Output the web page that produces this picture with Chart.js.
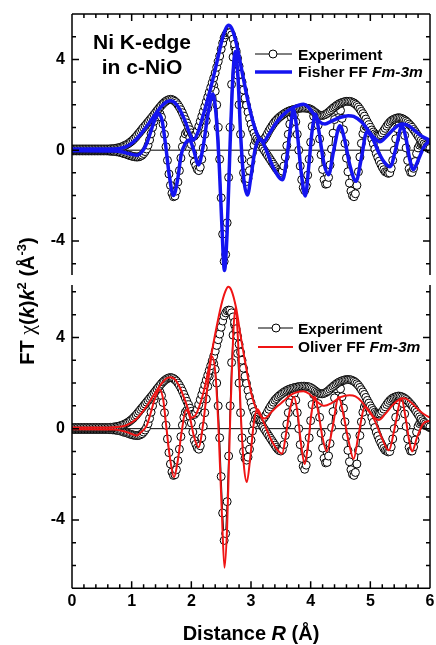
<!DOCTYPE html>
<html lang="en">
<head>
<meta charset="UTF-8">
<title>Ni K-edge FT in c-NiO</title>
<script src="https://cdn.jsdelivr.net/npm/chart.js"></script>
<style>
  html, body { margin: 0; padding: 0; background: #fff; }
  #wrap { position: relative; width: 436px; height: 645px; overflow: hidden; }
  canvas { position: absolute; left: 0; }
  #topChart { top: 0; }
  #botChart { top: 280px; }
  svg { position: absolute; left: 0; top: 0; pointer-events: none; }
  svg text { font-family: "Liberation Sans", Arial, sans-serif; font-weight: bold; fill: #000; }
</style>
</head>
<body>
<div id="wrap">
  <canvas id="topChart" width="436" height="280"></canvas>
  <canvas id="botChart" width="436" height="365"></canvas>
  <svg width="436" height="645" viewBox="0 0 436 645">
    <text x="142" y="49" font-size="21" text-anchor="middle">Ni K-edge</text>
    <text x="142" y="74" font-size="21" text-anchor="middle">in c-NiO</text>

    <line x1="255" y1="54" x2="292" y2="54" stroke="#000" stroke-width="1"/>
    <circle cx="273" cy="54" r="4" fill="#fff" stroke="#000" stroke-width="1"/>
    <text x="298" y="60" font-size="15.5">Experiment</text>
    <line x1="255" y1="72" x2="292" y2="72" stroke="#1414f0" stroke-width="3.5"/>
    <text x="298" y="77" font-size="15.5">Fisher FF <tspan font-style="italic">Fm-3m</tspan></text>

    <line x1="258" y1="328" x2="293" y2="328" stroke="#000" stroke-width="1"/>
    <circle cx="276" cy="328" r="4" fill="#fff" stroke="#000" stroke-width="1"/>
    <text x="298" y="334" font-size="15.5">Experiment</text>
    <line x1="258" y1="347" x2="293" y2="347" stroke="#f01414" stroke-width="2"/>
    <text x="298" y="352" font-size="15.5">Oliver FF <tspan font-style="italic">Fm-3m</tspan></text>

    <text x="251" y="640" font-size="20" text-anchor="middle">Distance <tspan font-style="italic">R</tspan> (Å)</text>
    <text transform="translate(34,301) rotate(-90)" font-size="20" text-anchor="middle">FT <tspan font-family="Liberation Serif" font-weight="normal" font-size="22">χ</tspan>(<tspan font-style="italic">k</tspan>)<tspan font-style="italic">k</tspan><tspan font-size="13" dy="-8">2</tspan><tspan dy="8"> (Å</tspan><tspan font-size="13" dy="-8">-3</tspan><tspan dy="8">)</tspan></text>
  </svg>
</div>
<script>
// experiment, sampled every 0.025 A from R = 0 to 6
const R_STEP = 0.025;

const expMag = [
  0.05, 0.05, 0.05, 0.05, 0.05, 0.05, 0.05, 0.05, 0.05, 0.05,
  0.05, 0.05, 0.05, 0.05, 0.05, 0.05, 0.05, 0.05, 0.05, 0.05,
  0.05, 0.05, 0.05, 0.05, 0.05, 0.05, 0.06, 0.06, 0.07, 0.08,
  0.09, 0.10, 0.12, 0.14, 0.16, 0.19, 0.22, 0.26, 0.30, 0.35,
  0.40, 0.46, 0.53, 0.60, 0.68, 0.76, 0.84, 0.92, 1.00, 1.08,
  1.16, 1.24, 1.32, 1.40, 1.48, 1.57, 1.65, 1.74, 1.82, 1.90,
  1.98, 2.05, 2.11, 2.16, 2.20, 2.23, 2.24, 2.23, 2.20, 2.15,
  2.09, 2.00, 1.90, 1.78, 1.65, 1.50, 1.35, 1.20, 1.05, 0.90,
  0.76, 0.64, 0.62, 0.70, 0.85, 1.05, 1.27, 1.49, 1.70, 1.92,
  2.13, 2.34, 2.55, 2.76, 2.97, 3.18, 3.40, 3.65, 3.90, 4.15,
  4.45, 4.72, 4.95, 5.08, 5.17, 5.20, 5.18, 5.08, 4.90, 4.67,
  4.38, 4.05, 3.70, 3.35, 3.00, 2.65, 2.30, 1.98, 1.68, 1.40,
  1.15, 0.93, 0.75, 0.60, 0.50, 0.43, 0.39, 0.38, 0.42, 0.50,
  0.60, 0.72, 0.85, 0.96, 1.06, 1.16, 1.25, 1.32, 1.39, 1.45,
  1.50, 1.55, 1.60, 1.64, 1.68, 1.71, 1.74, 1.76, 1.78, 1.80,
  1.81, 1.83, 1.84, 1.85, 1.86, 1.86, 1.86, 1.85, 1.84, 1.83,
  1.80, 1.76, 1.71, 1.66, 1.61, 1.57, 1.54, 1.53, 1.53, 1.55,
  1.58, 1.62, 1.67, 1.73, 1.79, 1.85, 1.90, 1.95, 2.00, 2.04,
  2.07, 2.10, 2.12, 2.14, 2.15, 2.15, 2.15, 2.14, 2.11, 2.08,
  2.03, 1.97, 1.90, 1.81, 1.71, 1.61, 1.50, 1.37, 1.24, 1.12,
  1.00, 0.89, 0.80, 0.72, 0.67, 0.64, 0.64, 0.68, 0.76, 0.86,
  0.96, 1.06, 1.15, 1.23, 1.29, 1.34, 1.37, 1.40, 1.42, 1.43,
  1.42, 1.40, 1.37, 1.33, 1.28, 1.22, 1.15, 1.08, 1.00, 0.91,
  0.82, 0.72, 0.62, 0.52, 0.43, 0.35, 0.28, 0.22, 0.17, 0.12,
  0.08
];

const expIm = [
  -0.03, -0.03, -0.03, -0.03, -0.03, -0.03, -0.03, -0.03, -0.03, -0.03,
  -0.03, -0.03, -0.03, -0.03, -0.03, -0.03, -0.03, -0.03, -0.03, -0.03,
  -0.03, -0.03, -0.03, -0.03, -0.03, -0.04, -0.04, -0.05, -0.05, -0.06,
  -0.07, -0.08, -0.09, -0.11, -0.13, -0.15, -0.17, -0.19, -0.22, -0.24,
  -0.26, -0.28, -0.29, -0.30, -0.30, -0.29, -0.26, -0.22, -0.15, -0.06,
  0.05, 0.22, 0.45, 0.72, 1.00, 1.27, 1.45, 1.57, 1.62, 1.60,
  1.45, 1.15, 0.70, 0.15, -0.45, -1.05, -1.55, -1.90, -2.05, -2.02,
  -1.80, -1.40, -0.90, -0.35, 0.15, 0.50, 0.72, 0.80, 0.75, 0.55,
  0.25, -0.15, -0.52, -0.68, -0.84, -0.90, -0.75, -0.40, 0.10, 0.70,
  1.30, 1.85, 2.30, 2.62, 2.80, 2.85, 2.60, 2.00, 1.00, -0.40,
  -2.10, -3.70, -4.90, -4.60, -3.20, -1.20, 1.00, 2.90, 4.10, 4.55,
  4.30, 3.30, 2.00, 0.70, -0.40, -1.00, -1.30, -1.38, -1.25, -0.90,
  -0.50, -0.10, 0.22, 0.42, 0.47, 0.42, 0.32, 0.20, 0.08, -0.02,
  -0.12, -0.22, -0.32, -0.42, -0.52, -0.62, -0.72, -0.82, -0.90, -0.96,
  -0.98, -0.92, -0.70, -0.30, 0.20, 0.70, 1.15, 1.45, 1.60, 1.55,
  1.25, 0.70, 0.00, -0.70, -1.30, -1.65, -1.78, -1.60, -1.10, -0.40,
  0.35, 1.05, 1.50, 1.65, 1.50, 1.10, 0.50, -0.20, -0.85, -1.30,
  -1.50, -1.48, -1.20, -0.65, 0.05, 0.75, 1.35, 1.75, 1.95, 1.90,
  1.75, 1.40, 0.90, 0.30, -0.35, -0.95, -1.45, -1.80, -2.00, -2.05,
  -1.92, -1.55, -0.95, -0.30, 0.30, 0.72, 0.95, 1.05, 1.02, 0.90,
  0.72, 0.50, 0.28, 0.05, -0.15, -0.32, -0.48, -0.62, -0.75, -0.86,
  -0.95, -0.98, -1.02, -1.00, -0.80, -0.45, 0.00, 0.50, 0.95, 1.25,
  1.38, 1.35, 1.10, 0.65, 0.10, -0.45, -0.82, -0.98, -0.98, -0.80,
  -0.50, -0.15, 0.10, 0.22, 0.27, 0.26, 0.22, 0.17, 0.12, 0.08,
  0.04
];

// fits: [R, value] at the turning points and crossings
const fisherMag = [
  [0, 0.05], [0.6, 0.05], [0.8, 0.08], [0.9, 0.15], [1.0, 0.3], [1.1, 0.55], [1.2, 0.87],
  [1.3, 1.22], [1.4, 1.6], [1.5, 1.93], [1.58, 2.12], [1.65, 2.18], [1.72, 2.1], [1.8, 1.82],
  [1.9, 1.25], [1.97, 0.75], [2.03, 0.44], [2.1, 0.72], [2.2, 1.55], [2.3, 2.5], [2.4, 3.55],
  [2.5, 4.7], [2.56, 5.25], [2.62, 5.5], [2.68, 5.35], [2.75, 4.75], [2.85, 3.45], [2.95, 2.15],
  [3.05, 1.1], [3.13, 0.55], [3.21, 0.37], [3.3, 0.7], [3.4, 1.12], [3.5, 1.45], [3.6, 1.7],
  [3.7, 1.87], [3.8, 1.98], [3.88, 2.02], [3.96, 1.9], [4.06, 1.55], [4.15, 1.25], [4.24, 1.15],
  [4.35, 1.28], [4.5, 1.45], [4.63, 1.52], [4.72, 1.49], [4.85, 1.25], [4.95, 0.92], [5.05, 0.58],
  [5.16, 0.37], [5.27, 0.6], [5.4, 0.95], [5.53, 1.15], [5.62, 1.1], [5.72, 0.92], [5.82, 0.7],
  [5.92, 0.53], [6.0, 0.44]
];

const fisherIm = [
  [0, -0.03], [0.7, -0.04], [0.85, -0.08], [0.95, -0.15], [1.09, -0.22], [1.18, -0.05],
  [1.26, 0.35], [1.33, 0.9], [1.39, 1.35], [1.45, 1.6], [1.51, 1.3], [1.57, 0.2], [1.63, -1.1],
  [1.70, -2.0], [1.77, -1.3], [1.83, -0.2], [1.9, 0.3], [1.97, 0.45], [2.04, 0.0], [2.12, -0.65],
  [2.2, 0.2], [2.28, 1.6], [2.36, 2.48], [2.42, 1.4], [2.47, -0.8], [2.51, -3.2], [2.555, -5.3],
  [2.6, -3.6], [2.65, 0.3], [2.7, 3.4], [2.735, 4.35], [2.78, 3.3], [2.83, 0.5], [2.88, -1.3],
  [2.94, -1.98], [3.0, -1.15], [3.07, 0.05], [3.15, 0.5], [3.24, 0.1], [3.38, -0.8], [3.53, -1.3],
  [3.6, -0.35], [3.66, 0.95], [3.71, 1.8], [3.77, 0.9], [3.84, -0.95], [3.91, -2.02], [3.97, -0.65],
  [4.02, 0.75], [4.08, 1.58], [4.14, 0.8], [4.22, -0.55], [4.30, -1.08], [4.39, 0.05], [4.49, 1.08],
  [4.57, 0.45], [4.66, -0.7], [4.76, -1.37], [4.85, -0.35], [4.94, 0.8], [5.04, 0.5], [5.14, -0.1],
  [5.24, -0.55], [5.33, -0.73], [5.43, 0.1], [5.53, 1.08], [5.6, 0.5], [5.66, -0.4], [5.72, -0.86],
  [5.8, -0.45], [5.9, 0.15], [6.0, 0.45]
];

const oliverMag = [
  [0, 0.05], [0.6, 0.05], [0.8, 0.08], [0.9, 0.14], [1.0, 0.27], [1.1, 0.48], [1.2, 0.8],
  [1.3, 1.18], [1.4, 1.6], [1.5, 1.98], [1.58, 2.2], [1.65, 2.26], [1.72, 2.18], [1.8, 1.85],
  [1.9, 1.2], [1.95, 0.82], [2.0, 0.48], [2.06, 0.55], [2.13, 0.95], [2.2, 1.55], [2.3, 2.75],
  [2.4, 4.15], [2.5, 5.4], [2.57, 6.02], [2.62, 6.22], [2.67, 6.08], [2.75, 5.3], [2.83, 4.0],
  [2.9, 2.95], [3.0, 1.6], [3.1, 0.8], [3.23, 0.45], [3.35, 0.75], [3.45, 1.0], [3.55, 1.22],
  [3.65, 1.45], [3.75, 1.58], [3.88, 1.64], [3.98, 1.52], [4.1, 1.2], [4.23, 1.0], [4.35, 1.12],
  [4.5, 1.38], [4.65, 1.47], [4.75, 1.42], [4.85, 1.2], [4.95, 0.85], [5.05, 0.52], [5.14, 0.38],
  [5.25, 0.65], [5.38, 1.05], [5.5, 1.3], [5.57, 1.33], [5.67, 1.18], [5.8, 0.85], [5.9, 0.63],
  [6.0, 0.48]
];

const oliverIm = [
  [0, -0.03], [0.7, -0.04], [0.85, -0.1], [0.95, -0.18], [1.08, -0.3], [1.16, -0.15],
  [1.25, 0.12], [1.32, 0.7], [1.4, 1.4], [1.47, 1.72], [1.53, 1.25], [1.58, 0.1], [1.64, -1.25],
  [1.71, -2.13], [1.77, -1.45], [1.84, -0.1], [1.91, 0.82], [1.97, 0.55], [2.04, -0.3], [2.12, -0.82],
  [2.2, 0.25], [2.28, 2.05], [2.35, 3.15], [2.41, 2.2], [2.46, -0.3], [2.51, -3.6], [2.556, -6.1],
  [2.6, -4.3], [2.65, 0.3], [2.7, 4.0], [2.735, 5.28], [2.78, 4.0], [2.83, 0.6], [2.88, -1.6],
  [2.93, -2.34], [2.99, -1.2], [3.05, 0.3], [3.11, 0.85], [3.2, 0.35], [3.36, -0.6], [3.52, -1.1],
  [3.59, -0.2], [3.65, 0.8], [3.72, 1.4], [3.78, 0.7], [3.84, -0.7], [3.9, -1.55], [3.96, -0.6],
  [4.01, 0.6], [4.07, 1.4], [4.13, 0.7], [4.2, -0.4], [4.27, -1.0], [4.36, -0.05], [4.47, 1.4],
  [4.55, 0.6], [4.64, -0.6], [4.72, -1.33], [4.8, -0.3], [4.91, 0.95], [5.0, 0.72], [5.1, 0.2],
  [5.2, -0.45], [5.31, -0.95], [5.41, 0.05], [5.52, 1.33], [5.59, 0.5], [5.65, -0.5], [5.7, -1.0],
  [5.78, -0.4], [5.88, 0.2], [6.0, 0.35]
];

const TICK_FONT = { family: "'Liberation Sans', Arial, sans-serif", size: 16, weight: 'bold' };

const toXY = (arr) => arr.map(([x, y]) => ({ x, y }));
const expXY = (vals) => vals.map((y, i) => ({ x: +(i * R_STEP).toFixed(3), y }));

// frame, inward ticks and zero line
const frame = {
  id: 'frame',
  beforeDatasetsDraw(chart) {
    const { ctx, chartArea: a, scales: { y } } = chart;
    const y0 = y.getPixelForValue(0);
    ctx.save();
    ctx.strokeStyle = '#000';
    ctx.lineWidth = 1;
    ctx.beginPath();
    ctx.moveTo(a.left, y0);
    ctx.lineTo(a.right, y0);
    ctx.stroke();
    ctx.restore();
  },
  afterDraw(chart, args, opts) {
    const { ctx, chartArea: a, scales: { x, y } } = chart;
    const edge = opts.edge === 'top' ? a.top : a.bottom;
    const dir = opts.edge === 'top' ? 1 : -1;
    ctx.save();
    ctx.strokeStyle = '#000';
    ctx.lineWidth = 1.5;
    ctx.beginPath();
    ctx.moveTo(a.left, a.top);
    ctx.lineTo(a.left, a.bottom);
    ctx.moveTo(a.right, a.top);
    ctx.lineTo(a.right, a.bottom);
    ctx.moveTo(a.left, edge);
    ctx.lineTo(a.right, edge);
    for (let i = 0; i <= 30; i++) {
      const px = x.getPixelForValue(i * 0.2);
      const len = i % 5 === 0 ? 7 : 4;
      ctx.moveTo(px, edge);
      ctx.lineTo(px, edge + dir * len);
    }
    for (let v = Math.ceil(y.min); v <= Math.floor(y.max); v++) {
      const py = y.getPixelForValue(v);
      const len = v % 4 === 0 ? 7 : 4;
      ctx.moveTo(a.left, py);
      ctx.lineTo(a.left + len, py);
      ctx.moveTo(a.right, py);
      ctx.lineTo(a.right - len, py);
    }
    ctx.stroke();
    ctx.restore();
  }
};

function makeChart(id, yMin, yMax, fitMag, fitIm, fitColor, fitWidth, isBottom) {
  const fitStyle = {
    borderColor: fitColor,
    borderWidth: fitWidth,
    pointRadius: 0,
    cubicInterpolationMode: 'monotone',
    fill: false,
    order: 1
  };
  const expStyle = {
    borderColor: '#000',
    borderWidth: 1,
    pointRadius: 4,
    pointBorderWidth: 1,
    pointBorderColor: '#000',
    pointBackgroundColor: '#fff',
    tension: 0,
    fill: false,
    order: 2
  };
  return new Chart(document.getElementById(id), {
    type: 'line',
    data: {
      datasets: [
        { label: 'fit |FT|', data: toXY(fitMag), ...fitStyle },
        { label: 'fit Im', data: toXY(fitIm), ...fitStyle },
        { label: 'Experiment |FT|', data: expXY(expMag), ...expStyle },
        { label: 'Experiment Im', data: expXY(expIm), ...expStyle }
      ]
    },
    options: {
      responsive: false,
      animation: false,
      events: [],
      layout: {
        padding: isBottom
          ? { top: 3, right: 6, bottom: 0, left: 0 }
          : { top: 14, right: 6, bottom: 3, left: 0 }
      },
      plugins: {
        legend: { display: false },
        tooltip: { enabled: false },
        frame: { edge: isBottom ? 'bottom' : 'top' }
      },
      scales: {
        x: {
          type: 'linear',
          min: 0,
          max: 6,
          display: isBottom,
          grid: { display: false, drawTicks: false },
          border: { display: false },
          ticks: { stepSize: 1, padding: 4, color: '#000', font: TICK_FONT },
          afterFit(s) {
            if (isBottom) s.height = 56.7;
            s.paddingLeft = 0;
            s.paddingRight = 0;
          }
        },
        y: {
          type: 'linear',
          min: yMin,
          max: yMax,
          grid: { display: false, drawTicks: false },
          border: { display: false },
          ticks: {
            stepSize: 1,
            autoSkip: false,
            padding: 7,
            color: '#000',
            font: TICK_FONT,
            callback: (v) => (v % 4 === 0 ? String(v) : '')
          },
          afterFit(s) {
            s.width = 72;
            s.paddingTop = 0;
            s.paddingBottom = 0;
          }
        }
      }
    },
    plugins: [frame]
  });
}

makeChart('topChart', -5.5, 6.0, fisherMag, fisherIm, '#1414f0', 3.5, false);
makeChart('botChart', -7.0, 6.3, oliverMag, oliverIm, '#f01414', 2, true);
</script>
</body>
</html>
